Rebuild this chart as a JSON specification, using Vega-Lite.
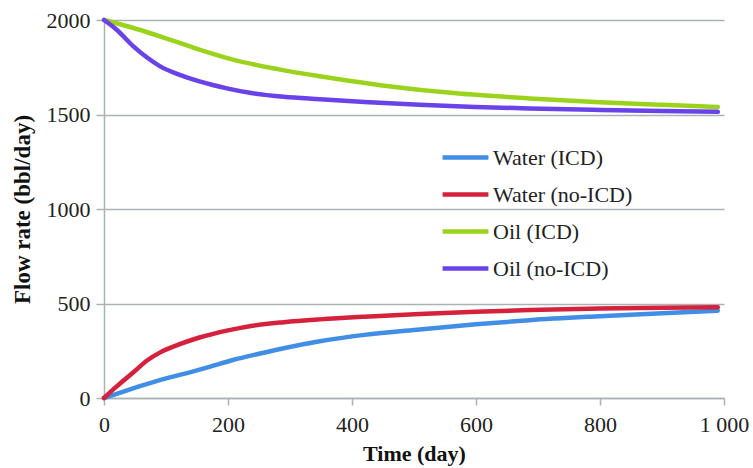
{
  "$schema": "https://vega.github.io/schema/vega-lite/v6.json",
  "width": 620,
  "height": 378,
  "autosize": {"type": "none"},
  "padding": {"left": 104, "top": 20, "right": 29, "bottom": 70},
  "background": "white",
  "config": {
    "view": {"stroke": null},
    "font": "Liberation Serif"
  },
  "data": {
    "values": [
      {"t": 0, "q": 0, "s": "Water (ICD)"},
      {"t": 47, "q": 51, "s": "Water (ICD)"},
      {"t": 90, "q": 95, "s": "Water (ICD)"},
      {"t": 127, "q": 126, "s": "Water (ICD)"},
      {"t": 170, "q": 165, "s": "Water (ICD)"},
      {"t": 208, "q": 201, "s": "Water (ICD)"},
      {"t": 250, "q": 234, "s": "Water (ICD)"},
      {"t": 288, "q": 262, "s": "Water (ICD)"},
      {"t": 348, "q": 300, "s": "Water (ICD)"},
      {"t": 420, "q": 334, "s": "Water (ICD)"},
      {"t": 509, "q": 363, "s": "Water (ICD)"},
      {"t": 600, "q": 390, "s": "Water (ICD)"},
      {"t": 686, "q": 412, "s": "Water (ICD)"},
      {"t": 800, "q": 433, "s": "Water (ICD)"},
      {"t": 900, "q": 449, "s": "Water (ICD)"},
      {"t": 990, "q": 462, "s": "Water (ICD)"},
      {"t": 0, "q": 0, "s": "Water (no-ICD)"},
      {"t": 20, "q": 60, "s": "Water (no-ICD)"},
      {"t": 47, "q": 135, "s": "Water (no-ICD)"},
      {"t": 70, "q": 200, "s": "Water (no-ICD)"},
      {"t": 90, "q": 240, "s": "Water (no-ICD)"},
      {"t": 120, "q": 282, "s": "Water (no-ICD)"},
      {"t": 154, "q": 320, "s": "Water (no-ICD)"},
      {"t": 200, "q": 358, "s": "Water (no-ICD)"},
      {"t": 235, "q": 380, "s": "Water (no-ICD)"},
      {"t": 290, "q": 401, "s": "Water (no-ICD)"},
      {"t": 348, "q": 416, "s": "Water (no-ICD)"},
      {"t": 420, "q": 430, "s": "Water (no-ICD)"},
      {"t": 509, "q": 444, "s": "Water (no-ICD)"},
      {"t": 600, "q": 456, "s": "Water (no-ICD)"},
      {"t": 686, "q": 465, "s": "Water (no-ICD)"},
      {"t": 800, "q": 473, "s": "Water (no-ICD)"},
      {"t": 900, "q": 477, "s": "Water (no-ICD)"},
      {"t": 990, "q": 480, "s": "Water (no-ICD)"},
      {"t": 0, "q": 2000, "s": "Oil (ICD)"},
      {"t": 50, "q": 1955, "s": "Oil (ICD)"},
      {"t": 100, "q": 1903, "s": "Oil (ICD)"},
      {"t": 150, "q": 1847, "s": "Oil (ICD)"},
      {"t": 208, "q": 1790, "s": "Oil (ICD)"},
      {"t": 280, "q": 1740, "s": "Oil (ICD)"},
      {"t": 348, "q": 1702, "s": "Oil (ICD)"},
      {"t": 449, "q": 1654, "s": "Oil (ICD)"},
      {"t": 568, "q": 1612, "s": "Oil (ICD)"},
      {"t": 686, "q": 1585, "s": "Oil (ICD)"},
      {"t": 800, "q": 1565, "s": "Oil (ICD)"},
      {"t": 900, "q": 1551, "s": "Oil (ICD)"},
      {"t": 990, "q": 1540, "s": "Oil (ICD)"},
      {"t": 0, "q": 2000, "s": "Oil (no-ICD)"},
      {"t": 20, "q": 1950, "s": "Oil (no-ICD)"},
      {"t": 47, "q": 1862, "s": "Oil (no-ICD)"},
      {"t": 70, "q": 1800, "s": "Oil (no-ICD)"},
      {"t": 90, "q": 1756, "s": "Oil (no-ICD)"},
      {"t": 120, "q": 1712, "s": "Oil (no-ICD)"},
      {"t": 154, "q": 1675, "s": "Oil (no-ICD)"},
      {"t": 200, "q": 1637, "s": "Oil (no-ICD)"},
      {"t": 235, "q": 1615, "s": "Oil (no-ICD)"},
      {"t": 290, "q": 1594, "s": "Oil (no-ICD)"},
      {"t": 348, "q": 1581, "s": "Oil (no-ICD)"},
      {"t": 420, "q": 1566, "s": "Oil (no-ICD)"},
      {"t": 509, "q": 1551, "s": "Oil (no-ICD)"},
      {"t": 600, "q": 1540, "s": "Oil (no-ICD)"},
      {"t": 686, "q": 1532, "s": "Oil (no-ICD)"},
      {"t": 800, "q": 1524, "s": "Oil (no-ICD)"},
      {"t": 900, "q": 1518, "s": "Oil (no-ICD)"},
      {"t": 990, "q": 1514, "s": "Oil (no-ICD)"}
    ]
  },
  "mark": {"type": "line", "strokeWidth": 4.5, "strokeCap": "round", "strokeJoin": "round", "interpolate": "monotone"},
  "encoding": {
    "x": {
      "field": "t", "type": "quantitative",
      "scale": {"domain": [0, 1000], "nice": false},
      "axis": {
        "title": "Time (day)", "values": [0, 200, 400, 600, 800, 1000],
        "labelExpr": "datum.value == 1000 ? '1 000' : datum.label",
        "grid": false, "domainColor": "#a9b3b3", "domainWidth": 1.5,
        "tickColor": "#a9b3b3", "tickWidth": 1.5, "tickSize": 7,
        "labelFont": "Liberation Serif", "labelFontSize": 22, "labelColor": "#222",
        "labelPadding": 9, "labelFlush": false, "labelOverlap": false,
        "titleFont": "Liberation Serif", "titleFontSize": 22, "titleFontWeight": "bold",
        "titleColor": "#111", "titlePadding": 8
      }
    },
    "y": {
      "field": "q", "type": "quantitative",
      "scale": {"domain": [0, 2000], "nice": false},
      "axis": {
        "title": "Flow rate (bbl/day)", "values": [0, 500, 1000, 1500, 2000],
        "format": "d",
        "grid": true, "gridColor": "#a9b3b3", "gridWidth": 1.5,
        "domainColor": "#a9b3b3", "domainWidth": 1.5,
        "tickColor": "#a9b3b3", "tickWidth": 1.5, "tickSize": 8,
        "labelFont": "Liberation Serif", "labelFontSize": 22, "labelColor": "#222",
        "labelPadding": 6, "labelOverlap": false,
        "titleFont": "Liberation Serif", "titleFontSize": 23, "titleFontWeight": "bold",
        "titleColor": "#111", "titlePadding": 12
      }
    },
    "color": {
      "field": "s", "type": "nominal",
      "scale": {
        "domain": ["Water (ICD)", "Water (no-ICD)", "Oil (ICD)", "Oil (no-ICD)"],
        "range": ["#418ee6", "#d5213c", "#9bd31c", "#6a42ea"]
      },
      "legend": {
        "title": null, "orient": "none", "legendX": 336, "legendY": 112,
        "symbolType": "stroke", "symbolStrokeWidth": 4.5, "symbolSize": 2100,
        "labelFont": "Liberation Serif", "labelFontSize": 22, "labelColor": "#222",
        "rowPadding": 0, "labelOffset": 2
      }
    }
  }
}
